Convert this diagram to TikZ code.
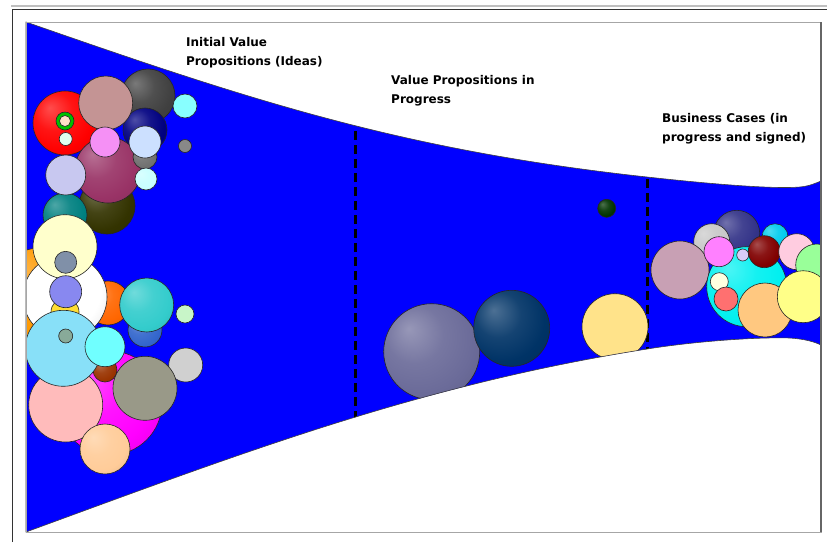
\documentclass[tikz,border=0pt]{standalone}
\usepackage{fontspec}
\setmainfont{DejaVu Sans}
% colours
\definecolor{fblue}{HTML}{0000FF}
\definecolor{cDarkGray}{HTML}{404040}
\definecolor{cRed}{HTML}{FF0000}
\definecolor{cNavy}{HTML}{000080}
\definecolor{cRosy}{HTML}{C49494}
\definecolor{cLtCyan}{HTML}{88FFFF}
\definecolor{cGrayChk}{HTML}{888888}
\definecolor{cOlive}{HTML}{333300}
\definecolor{cMaroon}{HTML}{993366}
\definecolor{cDimGray}{HTML}{707070}
\definecolor{cLtBlue}{HTML}{CCE0FF}
\definecolor{cPink}{HTML}{F590F5}
\definecolor{cGreen}{HTML}{00C000}
\definecolor{cPeachLt}{HTML}{FFE0C8}
\definecolor{cMint}{HTML}{E0FFF0}
\definecolor{cLavender}{HTML}{C8C8F0}
\definecolor{cLtCyanSph}{HTML}{C8FFFF}
\definecolor{cTeal}{HTML}{008080}
\definecolor{cLemon}{HTML}{FFFFCC}
\definecolor{cSlate}{HTML}{8090A8}
\definecolor{cOrange}{HTML}{FF9900}
\definecolor{cDkOrange}{HTML}{FF6600}
\definecolor{cWhite}{HTML}{FFFFFF}
\definecolor{cGold}{HTML}{FFDD33}
\definecolor{cPeri}{HTML}{8888F0}
\definecolor{cRoyal}{HTML}{3366CC}
\definecolor{cTealCyan}{HTML}{33CCCC}
\definecolor{cHoneydew}{HTML}{C8F5C8}
\definecolor{cMagenta}{HTML}{FF00FF}
\definecolor{cBrown}{HTML}{993300}
\definecolor{cLtPink}{HTML}{FFBBBB}
\definecolor{cSky}{HTML}{88E0F8}
\definecolor{cGrayGreen}{HTML}{88AA99}
\definecolor{cAqua}{HTML}{70FFFF}
\definecolor{cKhaki}{HTML}{999988}
\definecolor{cLtGray}{HTML}{D0D0D0}
\definecolor{cPeachSph}{HTML}{FFCC99}
\definecolor{cDkGreen}{HTML}{003300}
\definecolor{cSlateBlue}{HTML}{6B6B99}
\definecolor{cDeepBlue}{HTML}{003366}
\definecolor{cYellow}{HTML}{FFE38A}
\definecolor{cDSB}{HTML}{333388}
\definecolor{cCyanS}{HTML}{00CCEE}
\definecolor{cSilver}{HTML}{C8C8C8}
\definecolor{cMauve}{HTML}{C8A0B4}
\definecolor{cCyan}{HTML}{00F0F0}
\definecolor{cViolet}{HTML}{FF80FF}
\definecolor{cLav}{HTML}{D8CCF8}
\definecolor{cDkRed}{HTML}{800000}
\definecolor{cLtPinkB}{HTML}{FFCCE0}
\definecolor{cLtGreen}{HTML}{99FF99}
\definecolor{cSandy}{HTML}{FFC880}
\definecolor{cLemonB}{HTML}{FFFF88}
\definecolor{cIvory}{HTML}{FFFFE0}
\definecolor{cSalmon}{HTML}{FF7070}
\colorlet{sph}{red}
\pgfdeclareradialshading[sph]{sphere}{\pgfpoint{-12bp}{12bp}}{%
  color(0bp)=(sph!70!white); color(15bp)=(sph!92!white); color(28bp)=(sph);
  color(45bp)=(sph!85!black); color(60bp)=(sph!70!black)}
\tikzset{
  sph/.code={\colorlet{sph}{#1}},
  bs/.style={draw=black!85, line width=0.6pt, sph=#1, shading=sphere},
  bf/.style={draw=black!85, line width=0.6pt, fill=#1},
  lab/.style={anchor=base west, inner sep=0pt, font=\bfseries\fontsize{12}{14}\selectfont},
  divider/.style={line width=3pt, dash pattern=on 9pt off 5pt},
  funnel/.style={insert path={(26,22) .. controls (250,100) and (400,150) .. (647,177)
     .. controls (720,185) and (775,189) .. (800,187)
     .. controls (810,186) and (816,183) .. (821,181) -- (821,345)
     .. controls (815,342) and (805,339) .. (790,338)
     .. controls (760,337) and (700,340.6) .. (647,349)
     .. controls (420,385) and (250,450) .. (26,532) -- cycle}},
}
\begin{document}
\begin{tikzpicture}[x=1pt,y=-1pt]
\useasboundingbox (0,0) rectangle (827,542);
\fill[white] (0,0) rectangle (827,542);
% funnel
\fill[fblue, funnel];
\begin{scope}
\clip[funnel];
\draw[divider] (355,131) -- (355,450);
\draw[divider] (647,179) -- (647,380);
% left top cluster
\draw[bs=cDarkGray] (148,96) circle[radius=27];
\draw[bs=cRed] (65,123) circle[radius=32];
\draw[bs=cNavy] (145,130) circle[radius=22];
\draw[bf=cRosy] (105.7,103) circle[radius=27];
\draw[bf=cLtCyan] (185,106) circle[radius=12];
\draw[bf=cGrayChk] (185,146) circle[radius=6.5];
\draw[bs=cOlive] (107,206) circle[radius=28];
\draw[bs=cTeal] (65,215) circle[radius=22];
\draw[bs=cMaroon] (108,170) circle[radius=33];
\draw[bs=cDimGray] (145,157) circle[radius=12];
\draw[bf=cLtBlue] (145,142) circle[radius=16];
\draw[bf=cPink] (105,142) circle[radius=15];
\draw[bf=cGreen] (65,121) circle[radius=9];
\draw[bf=cPeachLt] (65,121) circle[radius=5.5];
\draw[bf=cMint] (65.7,139) circle[radius=6.5];
\draw[bf=cLavender] (65.7,175) circle[radius=20];
\draw[bs=cLtCyanSph] (146,179) circle[radius=11];
% left lower cluster
\draw[bs=cOrange] (40,293) circle[radius=45];
\draw[bs=cDkOrange] (108,303) circle[radius=22];
\draw[bs=cWhite] (65,297) circle[radius=42];
\draw[bf=cLemon] (65,246.7) circle[radius=32];
\draw[bf=cSlate] (65.7,262.3) circle[radius=11];
\draw[bf=cGold] (65,312) circle[radius=14];
\draw[bf=cPeri] (65.7,291.7) circle[radius=16];
\draw[bs=cRoyal] (145,330) circle[radius=17];
\draw[bs=cTealCyan] (146.7,305) circle[radius=27];
\draw[bf=cHoneydew] (185,314) circle[radius=9];
\draw[bs=cMagenta] (110,403) circle[radius=52];
\draw[bs=cBrown] (105,370) circle[radius=12];
\draw[bf=cLtPink] (65.7,405) circle[radius=37];
\draw[bf=cSky] (63.3,348.3) circle[radius=38];
\draw[bf=cGrayGreen] (65.7,336) circle[radius=7];
\draw[bf=cAqua] (105,346.7) circle[radius=20];
\draw[bf=cLtGray] (185.7,365) circle[radius=17];
\draw[bf=cKhaki] (145,388.3) circle[radius=32];
\draw[bs=cPeachSph] (105,449) circle[radius=25];
% middle
\draw[bs=cDkGreen] (606.7,208.3) circle[radius=9];
\draw[bs=cSlateBlue] (431.7,351.7) circle[radius=48];
\draw[bs=cDeepBlue] (511.7,328.3) circle[radius=38];
\draw[bf=cYellow] (615,326.7) circle[radius=33];
% right cluster
\draw[bs=cDSB] (736.7,233.3) circle[radius=23];
\draw[bs=cCyanS] (775,236.7) circle[radius=13];
\draw[bs=cSilver] (711.7,241.7) circle[radius=18];
\draw[bf=cMauve] (680,270) circle[radius=29];
\draw[bs=cCyan] (746.7,286.7) circle[radius=40];
\draw[bf=cViolet] (719,251.7) circle[radius=15];
\draw[bf=cLav] (742.7,255) circle[radius=6];
\draw[bs=cDkRed] (764.3,251.7) circle[radius=16];
\draw[bf=cLtPinkB] (796.7,251.7) circle[radius=18];
\draw[bf=cLtGreen] (816.7,265) circle[radius=21];
\draw[bf=cSandy] (765,310) circle[radius=27];
\draw[bf=cLemonB] (803.3,296.7) circle[radius=26];
\draw[bf=cIvory] (719.3,281.7) circle[radius=9];
\draw[bf=cSalmon] (726,299) circle[radius=12];
\end{scope}
\draw[black!75, line width=0.6pt, funnel];
% frames
\draw[gray!70, line width=1pt] (26,22) rectangle (821,532);
\draw[black!60, line width=1.5pt] (821,22) -- (821,532);
\draw[gray!50, line width=2pt] (11,6) -- (827,6);
\draw[black!80, line width=0.8pt] (12,542) -- (12,9) -- (827,9);
% labels
\node[lab] (t1a) at (186,46) {Initial Value};
\node[lab] (t1b) at (186,65) {Propositions (Ideas)};
\node[lab] (t2a) at (391,84) {Value Propositions in};
\node[lab] (t2b) at (391,103) {Progress};
\node[lab] (t3a) at (662,122.7) {Business Cases (in};
\node[lab] (t3b) at (662,141.7) {progress and signed)};
\end{tikzpicture}
\end{document}
